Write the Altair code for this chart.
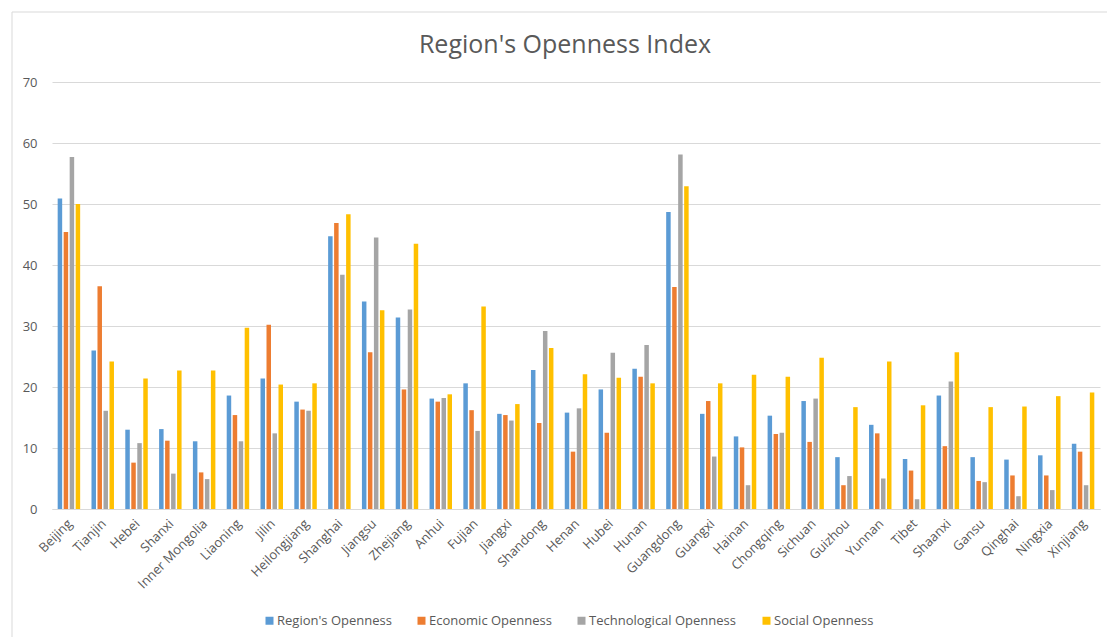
import altair as alt
import pandas as pd

# Provinces in display order
regions = [
    "Beijing", "Tianjin", "Hebei", "Shanxi", "Inner Mongolia", "Liaoning", "Jilin",
    "Heilongjiang", "Shanghai", "Jiangsu", "Zhejiang", "Anhui", "Fujian", "Jiangxi",
    "Shandong", "Henan", "Hubei", "Hunan", "Guangdong", "Guangxi", "Hainan",
    "Chongqing", "Sichuan", "Guizhou", "Yunnan", "Tibet", "Shaanxi", "Gansu",
    "Qinghai", "Ningxia", "Xinjiang",
]

series_names = [
    "Region's Openness", "Economic Openness", "Technological Openness", "Social Openness",
]
series_colors = ["#5B9BD5", "#ED7D31", "#A5A5A5", "#FFC000"]

regional = [
    50.9, 26.0, 13.0, 13.1, 11.1, 18.6, 21.4, 17.6, 44.7, 34.0, 31.4, 18.1, 20.6, 15.6,
    22.8, 15.8, 19.6, 23.0, 48.7, 15.6, 11.9, 15.3, 17.7, 8.5, 13.8, 8.2, 18.6, 8.5,
    8.1, 8.8, 10.7,
]
economic = [
    45.4, 36.5, 7.6, 11.2, 6.0, 15.4, 30.2, 16.3, 46.9, 25.7, 19.6, 17.6, 16.2, 15.4,
    14.1, 9.4, 12.5, 21.7, 36.4, 17.7, 10.1, 12.3, 11.0, 3.9, 12.4, 6.3, 10.3, 4.6,
    5.5, 5.5, 9.4,
]
technological = [
    57.7, 16.1, 10.8, 5.8, 4.9, 11.1, 12.4, 16.1, 38.4, 44.5, 32.7, 18.2, 12.8, 14.5,
    29.2, 16.5, 25.6, 26.9, 58.1, 8.6, 3.9, 12.5, 18.1, 5.4, 5.0, 1.6, 20.9, 4.4,
    2.1, 3.1, 3.9,
]
social = [
    50.0, 24.2, 21.4, 22.7, 22.7, 29.7, 20.4, 20.6, 48.3, 32.6, 43.5, 18.8, 33.2, 17.2,
    26.4, 22.1, 21.5, 20.6, 52.9, 20.6, 22.0, 21.7, 24.8, 16.7, 24.2, 17.0, 25.7, 16.7,
    16.8, 18.5, 19.1,
]

y_ticks = [0, 10, 20, 30, 40, 50, 60, 70]

rows = []
for name, values in zip(series_names, [regional, economic, technological, social]):
    for region, v in zip(regions, values):
        rows.append({"region": region, "series": name, "value": v})
df = pd.DataFrame(rows)

text_color = "#595959"
grid_color = "#D9D9D9"

bars = (
    alt.Chart(df)
    .mark_bar()
    .encode(
        x=alt.X(
            "region:N",
            sort=regions,
            scale=alt.Scale(paddingInner=0.335, paddingOuter=0.168),
            axis=alt.Axis(
                title=None,
                labelAngle=-45,
                labelFontSize=13,
                labelColor=text_color,
                labelPadding=8,
                labelOffset=-3,
                ticks=False,
                domainColor=grid_color,
                grid=False,
            ),
        ),
        xOffset=alt.XOffset(
            "series:N", sort=series_names, scale=alt.Scale(paddingInner=0.25, paddingOuter=0)
        ),
        y=alt.Y(
            "value:Q",
            scale=alt.Scale(domain=[0, 70], nice=False),
            axis=alt.Axis(
                title=None,
                values=y_ticks,
                labelFontSize=13,
                labelColor=text_color,
                labelPadding=15,
                ticks=False,
                domain=False,
                gridColor=grid_color,
            ),
        ),
        color=alt.Color(
            "series:N",
            sort=series_names,
            scale=alt.Scale(domain=series_names, range=series_colors),
            legend=alt.Legend(
                title=None,
                orient="none",
                direction="horizontal",
                legendX=211,
                legendY=532,
                symbolType="square",
                symbolSize=64,
                symbolStrokeWidth=0,
                labelFontSize=13,
                labelColor=text_color,
                labelOffset=1,
                columnPadding=23,
            ),
        ),
    )
)

# Thin frame around the chart area (left and top edges)
frame_data = alt.Data(values=[{"k": 1}])
frame_left = alt.Chart(frame_data).mark_rule(color=grid_color, strokeWidth=1).encode(
    x=alt.value(-40), y=alt.value(-70), y2=alt.value(560)
)
frame_top = alt.Chart(frame_data).mark_rule(color=grid_color, strokeWidth=1).encode(
    x=alt.value(-40), x2=alt.value(1060), y=alt.value(-70)
)

chart = (
    alt.layer(frame_left, frame_top, bars)
    .properties(
        width=1048,
        height=427,
        padding={"left": 52, "top": 82, "right": 7, "bottom": 128},
        autosize=alt.AutoSizeParams(type="none"),
        title=alt.TitleParams(
            "Region's Openness Index",
            fontSize=25,
            fontWeight="normal",
            color=text_color,
            anchor="middle",
            dx=-11,
            baseline="alphabetic",
            offset=29,
            dy=95,
        ),
    )
    .configure(font="Open Sans")
    .configure_view(stroke=None)
    .configure_axis(labelFont="Open Sans")
    .configure_legend(labelFont="Open Sans")
)

chart.save("out.html", embed_options={"renderer": "svg", "actions": False})
